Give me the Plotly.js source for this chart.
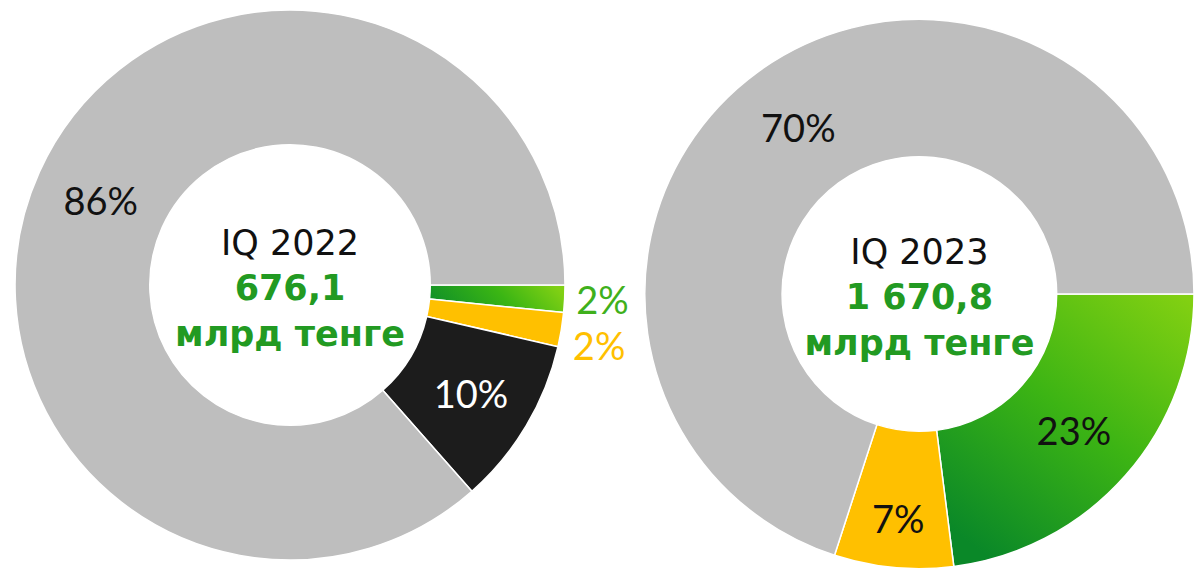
<!DOCTYPE html>
<html>
<head>
<meta charset="utf-8">
<script src="https://cdn.plot.ly/plotly-3.0.1.min.js"></script>
<style>
html,body{margin:0;padding:0;background:#fff;}
#chart{width:1194px;height:569px;}
path.textline{display:none;}
</style>
</head>
<body>
<div id="chart"></div>
<script>
// Left donut: IQ 2022
const cats2022 = ['Зелёный', 'Жёлтый', 'Чёрный', 'Серый'];
const shares2022 = [1.6, 2.0, 9.9, 86.5];
const labels2022 = ['2%', '2%', '10%', '86%'];
const period2022 = 'IQ 2022';
const total2022 = '676,1';

// Right donut: IQ 2023
const cats2023 = ['Зелёный', 'Жёлтый', 'Серый'];
const shares2023 = [23, 7, 70];
const labels2023 = ['23%', '7%', '70%'];
const period2023 = 'IQ 2023';
const total2023 = '1 670,8';

const unit = 'млрд тенге';

const GREEN = '#3aad1c', YELLOW = '#ffc000', BLACK = '#1c1c1c', GRAY = '#bebebe';
const TXTGREEN = '#229a22';
const LFONT = 'Lato, "Open Sans", sans-serif';
const CFONT = '"DejaVu Sans", Lato, sans-serif';

function centerTitle(period, total) {
  return period + '<br><b><span style="color:' + TXTGREEN + '">' + total + '</span></b>' +
         '<br><b><span style="color:' + TXTGREEN + '">' + unit + '</span></b>';
}

const left = {
  type: 'pie', labels: cats2022, values: shares2022, text: labels2022,
  textinfo: 'text', sort: false, direction: 'clockwise', rotation: 90,
  hole: 0.51,
  domain: {x: [0.0126, 0.4732], y: [0.0158, 0.9824]},
  marker: {colors: [GREEN, YELLOW, BLACK, GRAY], line: {color: '#ffffff', width: 1.5}},
  textposition: ['outside', 'outside', 'inside', 'inside'],
  insidetextorientation: 'horizontal',
  insidetextfont: {family: LFONT, size: 38, color: [GREEN, YELLOW, '#ffffff', '#111111']},
  outsidetextfont: {family: LFONT, size: 38, color: ['#3fb01c', YELLOW, '#ffffff', '#111111']},
  title: {text: centerTitle(period2022, total2022), position: 'middle center',
          font: {family: CFONT, size: 35, color: '#111111'}},
  showlegend: false, hoverinfo: 'label+percent'
};

const right = {
  type: 'pie', labels: cats2023, values: shares2023, text: labels2023,
  textinfo: 'text', sort: false, direction: 'clockwise', rotation: 90,
  hole: 0.5,
  domain: {x: [0.54, 1.0], y: [0.0, 0.9666]},
  marker: {colors: [GREEN, YELLOW, GRAY], line: {color: '#ffffff', width: 1.5}},
  textposition: 'inside',
  insidetextorientation: 'horizontal',
  insidetextfont: {family: LFONT, size: 38, color: '#111111'},
  title: {text: centerTitle(period2023, total2023), position: 'middle center',
          font: {family: CFONT, size: 35, color: '#111111'}},
  showlegend: false, hoverinfo: 'label+percent'
};

const layout = {
  width: 1194, height: 569,
  margin: {l: 0, r: 0, t: 0, b: 0},
  paper_bgcolor: '#ffffff', plot_bgcolor: '#ffffff',
  font: {family: LFONT},
  showlegend: false
};

Plotly.newPlot('chart', [left, right], layout, {displayModeBar: false, staticPlot: true}).then(function (gd) {
  // Gradient fills on the green slices, as in the original artwork
  const svg = gd.querySelector('svg.main-svg');
  const NS = 'http://www.w3.org/2000/svg';
  const defs = document.createElementNS(NS, 'defs');
  function grad(id, x1, y1, x2, y2, stops) {
    const g = document.createElementNS(NS, 'linearGradient');
    g.setAttribute('id', id);
    g.setAttribute('x1', x1); g.setAttribute('y1', y1);
    g.setAttribute('x2', x2); g.setAttribute('y2', y2);
    stops.forEach(function (s) {
      const st = document.createElementNS(NS, 'stop');
      st.setAttribute('offset', s[0]);
      st.setAttribute('stop-color', s[1]);
      g.appendChild(st);
    });
    defs.appendChild(g);
  }
  grad('gL', '0', '0.6', '1', '0.4', [['0', '#0f8f28'], ['0.55', '#3ab514'], ['1', '#80d014']]);
  grad('gR', '0.95', '0', '0.25', '1', [['0', '#82d012'], ['0.5', '#3cb414'], ['1', '#0a8828']]);
  svg.insertBefore(defs, svg.firstChild);
  const traces = gd.querySelectorAll('g.pielayer g.trace');
  if (traces.length === 2) {
    const sL = traces[0].querySelectorAll('g.slice path.surface');
    const sR = traces[1].querySelectorAll('g.slice path.surface');
    if (sL[0]) sL[0].style.fill = 'url(#gL)';
    if (sR[0]) sR[0].style.fill = 'url(#gR)';
  }
});
</script>
</body>
</html>
